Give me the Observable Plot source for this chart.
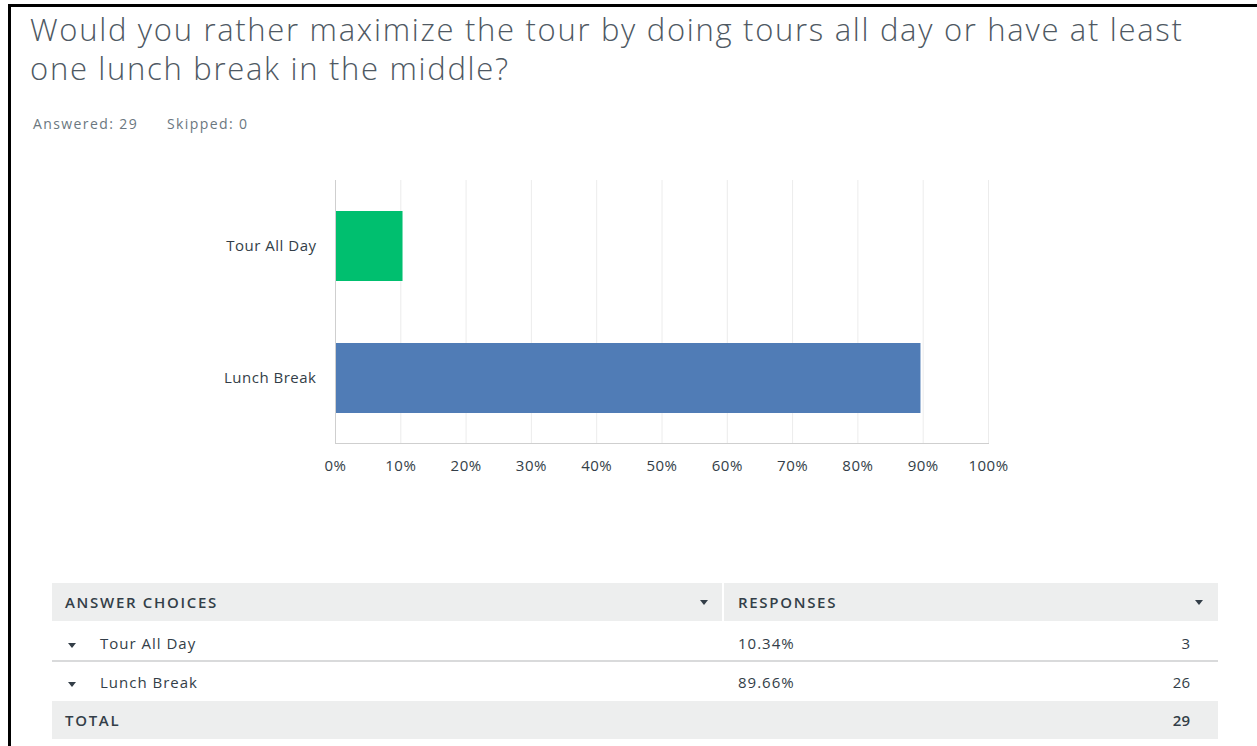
<!DOCTYPE html>
<html>
<head>
<meta charset="utf-8">
<script src="https://cdn.jsdelivr.net/npm/d3@7"></script>
<script src="https://cdn.jsdelivr.net/npm/@observablehq/plot@0.6"></script>
<style>
  html, body { margin: 0; padding: 0; background: #fff; }
  body { width: 1257px; height: 746px; position: relative; overflow: hidden; font-family: "Open Sans", Roboto, sans-serif; }
  .frame-top { position: absolute; left: 8px; top: 4px; width: 1249px; height: 3px; background: #000; }
  .frame-left { position: absolute; left: 8px; top: 4px; width: 3px; height: 742px; background: #000; }
  .title { position: absolute; left: 30px; top: 10px; font-size: 31px; line-height: 39px; font-weight: 300; color: #4f5963; white-space: nowrap; letter-spacing: 1.7px; }
  .meta { position: absolute; top: 114px; font-size: 14px; color: #6b7780; letter-spacing: 1.4px; }
  #chart { position: absolute; left: 0; top: 170px; }
  .cell { position: absolute; box-sizing: border-box; display: flex; align-items: center; font-size: 15px; color: #333e48; letter-spacing: 1px; }
  .hdr { background: #edeeee; font-weight: 600; letter-spacing: 1.7px; }
  .tri { position: absolute; width: 0; height: 0; border-left: 4.5px solid transparent; border-right: 4.5px solid transparent; border-top: 5px solid #333e48; }
  .sep { position: absolute; height: 2px; background: #d9dadb; }
</style>
</head>
<body>
<div class="frame-top"></div>
<div class="frame-left"></div>
<div class="title" id="title">Would you rather maximize the tour by doing tours all day or have at least<br>one lunch break in the middle?</div>
<div class="meta" style="left:33px">Answered: 29</div>
<div class="meta" style="left:167px">Skipped: 0</div>
<div id="chart"></div>
<div id="table"></div>
<script>
const choices = ["Tour All Day", "Lunch Break"];
const percents = [10.34, 89.66];
const counts = [3, 26];
const total = 29;
const barColors = ["#00bf6f", "#507cb6"];
const xTicks = [0, 10, 20, 30, 40, 50, 60, 70, 80, 90, 100];

const data = choices.map((c, i) => ({choice: c, pct: percents[i], count: counts[i]}));

const plot = Plot.plot({
  width: 1257,
  height: 313,
  marginLeft: 335,
  marginRight: 269,
  marginTop: 10,
  marginBottom: 40,
  style: {fontFamily: "'Open Sans', Roboto, sans-serif", fontSize: "15px", letterSpacing: "0.5px", color: "#333e48", background: "transparent"},
  x: {domain: [0, 100], ticks: xTicks, tickFormat: d => d + "%", tickSize: 0, tickPadding: 17, label: null},
  y: {domain: choices, paddingInner: 0.47, paddingOuter: 0.23, tickSize: 0, tickPadding: 19, label: null},
  color: {domain: choices, range: barColors},
  marks: [
    Plot.ruleX(xTicks, {stroke: "#ececec", strokeWidth: 1}),
    Plot.barX(data, {x: "pct", y: "choice", fill: "choice"}),
    Plot.frame({anchor: "left", stroke: "#cfcfcf"}),
    Plot.frame({anchor: "bottom", stroke: "#cfcfcf"})
  ]
});
document.getElementById("chart").appendChild(plot);

// Table
const T = document.getElementById("table");
function cell(x, y, w, h, html, cls, extra) {
  const d = document.createElement("div");
  d.className = "cell " + (cls || "");
  d.style.left = x + "px"; d.style.top = y + "px"; d.style.width = w + "px"; d.style.height = h + "px";
  if (extra) Object.assign(d.style, extra);
  d.innerHTML = html;
  T.appendChild(d);
  return d;
}
function tri(x, y) {
  const t = document.createElement("div");
  t.className = "tri"; t.style.left = x + "px"; t.style.top = y + "px";
  T.appendChild(t);
}
// header
cell(52, 583, 670, 38, "ANSWER CHOICES", "hdr", {paddingLeft: "13px"});
cell(724, 583, 494, 38, "RESPONSES", "hdr", {paddingLeft: "14px"});
tri(700, 600); tri(1195, 600);
// rows
const rowTop = [624, 663];
data.forEach((d, i) => {
  const y = rowTop[i];
  cell(52, y, 670, 38, d.choice, "", {paddingLeft: "48px"});
  tri(68, y + 19);
  cell(724, y, 494, 38, d.pct.toFixed(2) + "%", "", {paddingLeft: "14px"});
  cell(724, y, 466, 38, String(d.count), "", {justifyContent: "flex-end", letterSpacing: "0"});
});
const s = document.createElement("div");
s.className = "sep"; s.style.left = "52px"; s.style.top = "660px"; s.style.width = "1166px";
T.appendChild(s);
// total
cell(52, 701, 1166, 38, "TOTAL", "hdr", {paddingLeft: "13px"});
cell(724, 701, 466, 38, String(total), "", {justifyContent: "flex-end", fontWeight: "600", letterSpacing: "0"});
</script>
</body>
</html>
